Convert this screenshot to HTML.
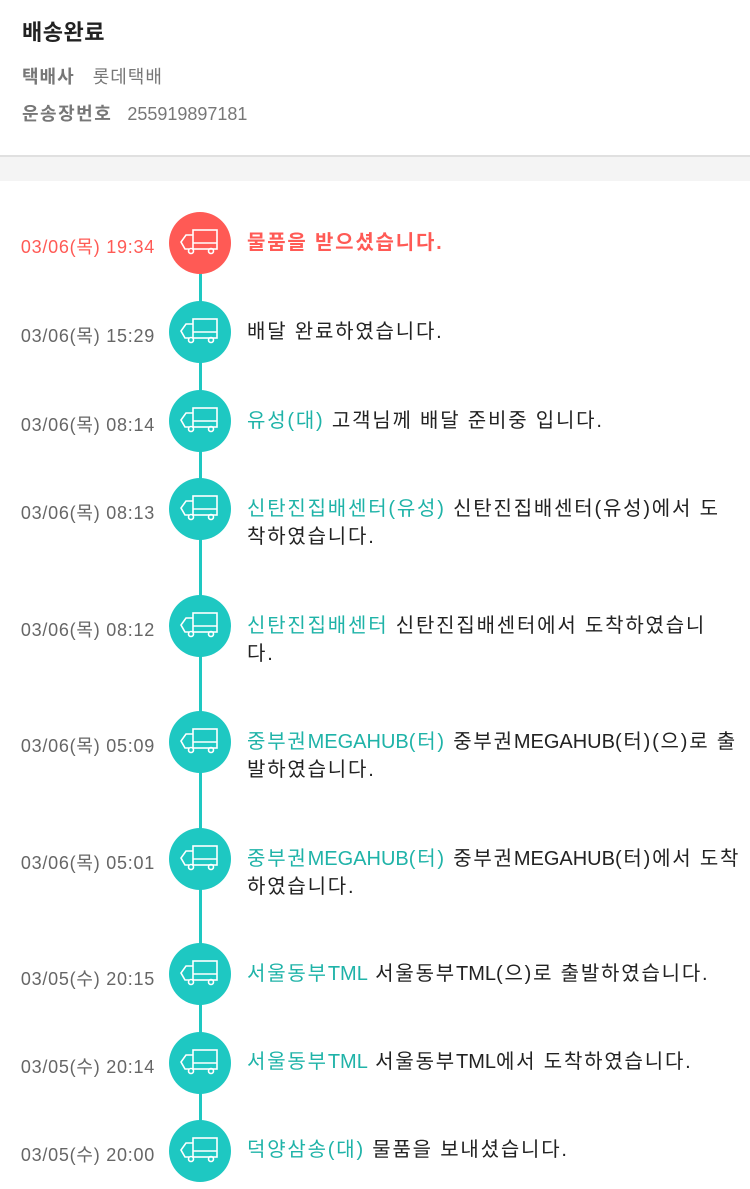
<!DOCTYPE html>
<html><head><meta charset="utf-8"><style>
body{margin:0;width:750px;height:1189px;background:#fff;font-family:"Liberation Sans","Noto Sans CJK KR",sans-serif;position:relative;overflow:hidden}
.a{position:absolute;white-space:nowrap}
.d{position:absolute;right:595px;font-size:18px;letter-spacing:0.75px;color:#666;line-height:20px;white-space:nowrap}
.c{position:absolute;left:169px;width:62px;height:62px;border-radius:50%;background:#1ec8c2}
.c svg{position:absolute;left:11px;top:16px}
.t{position:absolute;left:247px;font-size:20px;letter-spacing:1.8px;line-height:28px;color:#222;white-space:nowrap}
.g{color:#1fb3a8}
.l{letter-spacing:0}
</style></head><body>
<div class="a" style="left:22px;top:15px;font-size:22px;font-weight:bold;color:#222;letter-spacing:0.5px">배송완료</div>
<div class="a" style="left:22px;top:63px;font-size:18px;color:#777;letter-spacing:1px"><b>택배사</b>&nbsp;&nbsp;&nbsp;롯데택배</div>
<div class="a" style="left:22px;top:100px;font-size:18px;color:#777"><b style="letter-spacing:1.5px">운송장번호</b>&nbsp;&nbsp;&nbsp;255919897181</div>
<div style="position:absolute;left:0;top:155px;width:750px;height:24px;background:#f4f4f4;border-top:2px solid #e0e0e0"></div>
<div style="position:absolute;left:199px;top:243px;width:3px;height:907px;background:#1ec8c2"></div>
<svg width="0" height="0" style="position:absolute"><defs><g id="tr" fill="none" stroke="#fff" stroke-width="1.6"><rect x="13" y="2" width="24" height="19"/><line x1="13" y1="15" x2="37" y2="15"/><path d="M13 7 H6 L1 14 L5 21 H9"/><circle cx="11" cy="23" r="2.5"/><circle cx="31" cy="23" r="2.5"/></g></defs></svg>
<div class="d" style="top:237px;color:#ff5a55">03/06(목) 19:34</div>
<div class="c" style="top:212px;background:#ff5a55"><svg width="40" height="30"><use href="#tr"/></svg></div>
<div class="t" style="top:229px;color:#ff5a55;font-weight:bold">물품을 받으셨습니다.</div>

<div class="d" style="top:326px">03/06(목) 15:29</div>
<div class="c" style="top:301px"><svg width="40" height="30"><use href="#tr"/></svg></div>
<div class="t" style="top:318px">배달 완료하였습니다.</div>

<div class="d" style="top:415px">03/06(목) 08:14</div>
<div class="c" style="top:390px"><svg width="40" height="30"><use href="#tr"/></svg></div>
<div class="t" style="top:407px"><span class="g">유성(대)</span> 고객님께 배달 준비중 입니다.</div>

<div class="d" style="top:503px">03/06(목) 08:13</div>
<div class="c" style="top:478px"><svg width="40" height="30"><use href="#tr"/></svg></div>
<div class="t" style="top:495px"><span class="g">신탄진집배센터(유성)</span> 신탄진집배센터(유성)에서 도<br>착하였습니다.</div>

<div class="d" style="top:620px">03/06(목) 08:12</div>
<div class="c" style="top:595px"><svg width="40" height="30"><use href="#tr"/></svg></div>
<div class="t" style="top:612px"><span class="g">신탄진집배센터</span> 신탄진집배센터에서 도착하였습니<br>다.</div>

<div class="d" style="top:736px">03/06(목) 05:09</div>
<div class="c" style="top:711px"><svg width="40" height="30"><use href="#tr"/></svg></div>
<div class="t" style="top:728px"><span class="g">중부권<span class="l">MEGAHUB</span>(터)</span> 중부권<span class="l">MEGAHUB</span>(터)(으)로 출<br>발하였습니다.</div>

<div class="d" style="top:853px">03/06(목) 05:01</div>
<div class="c" style="top:828px"><svg width="40" height="30"><use href="#tr"/></svg></div>
<div class="t" style="top:845px"><span class="g">중부권<span class="l">MEGAHUB</span>(터)</span> 중부권<span class="l">MEGAHUB</span>(터)에서 도착<br>하였습니다.</div>

<div class="d" style="top:969px">03/05(수) 20:15</div>
<div class="c" style="top:943px"><svg width="40" height="30"><use href="#tr"/></svg></div>
<div class="t" style="top:960px"><span class="g">서울동부<span class="l">TML</span></span> 서울동부<span class="l">TML</span>(으)로 출발하였습니다.</div>

<div class="d" style="top:1057px">03/05(수) 20:14</div>
<div class="c" style="top:1032px"><svg width="40" height="30"><use href="#tr"/></svg></div>
<div class="t" style="top:1048px"><span class="g">서울동부<span class="l">TML</span></span> 서울동부<span class="l">TML</span>에서 도착하였습니다.</div>

<div class="d" style="top:1145px">03/05(수) 20:00</div>
<div class="c" style="top:1120px"><svg width="40" height="30"><use href="#tr"/></svg></div>
<div class="t" style="top:1136px"><span class="g">덕양삼송(대)</span> 물품을 보내셨습니다.</div>
</body></html>
